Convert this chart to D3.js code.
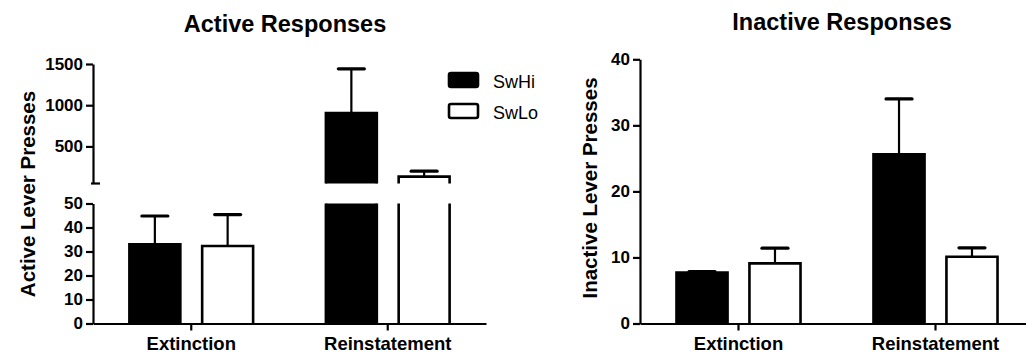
<!DOCTYPE html>
<html>
<head>
<meta charset="utf-8">
<script src="https://cdn.jsdelivr.net/npm/d3@7"></script>
<style>
  body { margin: 0; background: #fff; }
  text { font-family: "Liberation Sans", Arial, sans-serif; fill: #000; }
</style>
</head>
<body>
<div class="chart"></div>
<script>
// 数据
const categories = ["Extinction", "Reinstatement"];
const groups = ["SwHi", "SwLo"];
const activeSwHi = [33.0, 906];
const activeSwHiErr = [11.8, 535];
const activeSwLo = [32.3, 134];
const activeSwLoErr = [13.1, 66];
const inactiveSwHi = [7.7, 25.6];
const inactiveSwHiErr = [0.15, 8.4];
const inactiveSwLo = [9.1, 10.1];
const inactiveSwLoErr = [2.3, 1.35];
const activeLowTicks = [0, 10, 20, 30, 40, 50];
const activeHighTicks = [500, 1000, 1500];
const inactiveTicks = [0, 10, 20, 30, 40];

const width = 1026;
const height = 354;

const svg = d3
  .select(".chart")
  .append("svg")
  .attr("width", width)
  .attr("height", height);

function rows(hi, hiErr, lo, loErr) {
  return categories.flatMap(function (c, i) {
    return [
      { cat: c, grp: "SwHi", v: hi[i], e: hiErr[i] },
      { cat: c, grp: "SwLo", v: lo[i], e: loErr[i] }
    ];
  });
}

function styleAxis(g, size) {
  g.attr("font-family", "'Liberation Sans', Arial, sans-serif");
  g.select(".domain").attr("stroke", "#000").attr("stroke-width", 2.2);
  g.selectAll(".tick line").attr("stroke", "#000").attr("stroke-width", 2.2);
  g.selectAll(".tick text")
    .style("font-size", size + "px")
    .style("font-weight", "bold")
    .attr("fill", "#000");
}

// 画一个面板（可带断轴）
function drawPanel(opt) {
  const x0 = d3.scaleBand().domain(categories).range(opt.xRange);
  const x1 = d3.scaleBand().domain(groups)
    .range([0, x0.bandwidth()])
    .paddingInner(0.3)
    .paddingOuter(0.5);
  const y = opt.y;
  const g = svg.append("g");

  // 柱子（断轴时拆成上下两段）
  opt.data.forEach(function (d) {
    const xa = x0(d.cat) + x1(d.grp);
    const xb = xa + x1.bandwidth();
    const fill = d.grp === "SwHi" ? "#000" : "#fff";
    let segs;
    if (opt.brk && d.v > opt.brk.at) {
      segs = [
        { bot: opt.brk.low(0), top: opt.brk.low(opt.brk.at), cap: false },
        { bot: opt.brk.high(opt.brk.at), top: opt.brk.high(d.v), cap: true }
      ];
    } else {
      segs = [{ bot: y(0), top: y(d.v), cap: true }];
    }
    segs.forEach(function (s) {
      g.append("rect")
        .attr("x", xa).attr("y", s.top)
        .attr("width", xb - xa).attr("height", s.bot - s.top)
        .attr("fill", fill);
      const p = s.cap
        ? "M" + xa + "," + s.bot + "V" + s.top + "H" + xb + "V" + s.bot
        : "M" + xa + "," + s.bot + "V" + s.top + "M" + xb + "," + s.top + "V" + s.bot;
      g.append("path")
        .attr("d", p)
        .attr("fill", "none")
        .attr("stroke", "#000")
        .attr("stroke-width", 2.6);
    });

    // 误差线
    const cx = (xa + xb) / 2;
    g.append("line")
      .attr("x1", cx).attr("x2", cx)
      .attr("y1", y(d.v)).attr("y2", y(d.v + d.e))
      .attr("stroke", "#000").attr("stroke-width", 2.2);
    g.append("line")
      .attr("x1", cx - 13).attr("x2", cx + 13)
      .attr("y1", y(d.v + d.e)).attr("y2", y(d.v + d.e))
      .attr("stroke", "#000").attr("stroke-width", 3.2)
      .attr("stroke-linecap", "round");
  });

  // x 轴
  const xAxis = g.append("g")
    .attr("transform", "translate(0," + y(0) + ")")
    .call(d3.axisBottom(x0).tickSize(7).tickSizeOuter(0).tickPadding(6));
  styleAxis(xAxis, 18.5);

  // y 轴
  opt.yAxes.forEach(function (a) {
    const ya = g.append("g")
      .attr("transform", "translate(" + opt.xRange[0] + ",0)")
      .call(d3.axisLeft(a.scale)
        .tickValues(a.ticks)
        .tickFormat(d3.format("d"))
        .tickSize(7).tickSizeOuter(0).tickPadding(3));
    styleAxis(ya, 17);
  });

  if (opt.brk) {
    g.append("line")
      .attr("x1", opt.xRange[0] - 2).attr("x2", opt.xRange[0] + 7)
      .attr("y1", opt.brk.high(opt.brk.at)).attr("y2", opt.brk.high(opt.brk.at))
      .attr("stroke", "#000").attr("stroke-width", 2.2);
  }

  // 标题和 y 轴标题
  svg.append("text")
    .attr("x", opt.title[1]).attr("y", opt.title[2])
    .attr("text-anchor", "middle")
    .style("font-size", "23.5px").style("font-weight", "bold")
    .text(opt.title[0]);
  svg.append("text")
    .attr("transform", "translate(" + opt.yLabel[1] + "," + opt.yLabel[2] + ") rotate(-90)")
    .attr("text-anchor", "middle")
    .style("font-size", "20.5px").style("font-weight", "bold")
    .text(opt.yLabel[0]);
}

// 左图：断轴
const yLow = d3.scaleLinear().domain([0, 50]).range([323.5, 203.5]);
const yHigh = d3.scaleLinear().domain([50, 1500]).range([183.5, 64]);
const yActive = function (v) { return v <= 50 ? yLow(v) : yHigh(v); };

drawPanel({
  xRange: [93, 486],
  y: yActive,
  brk: { at: 50, low: yLow, high: yHigh },
  yAxes: [
    { scale: yLow, ticks: activeLowTicks },
    { scale: yHigh, ticks: activeHighTicks }
  ],
  data: rows(activeSwHi, activeSwHiErr, activeSwLo, activeSwLoErr),
  title: ["Active Responses", 285, 32],
  yLabel: ["Active Lever Presses", 35, 194]
});

// 右图
const yInactive = d3.scaleLinear().domain([0, 40]).range([323.5, 59.3]);
drawPanel({
  xRange: [640, 1034],
  y: yInactive,
  yAxes: [{ scale: yInactive, ticks: inactiveTicks }],
  data: rows(inactiveSwHi, inactiveSwHiErr, inactiveSwLo, inactiveSwLoErr),
  title: ["Inactive Responses", 842, 30],
  yLabel: ["Inactive Lever Presses", 597, 188]
});

// 图例
const legend = svg.append("g").attr("transform", "translate(448,72)");
groups.forEach(function (grp, i) {
  legend.append("rect")
    .attr("x", 1).attr("y", i * 31 + 1)
    .attr("width", 29).attr("height", 14)
    .attr("rx", 2)
    .attr("fill", grp === "SwHi" ? "#000" : "#fff")
    .attr("stroke", "#000").attr("stroke-width", 2.6);
  legend.append("text")
    .attr("x", 45).attr("y", i * 31 + 16)
    .style("font-size", "18px")
    .text(grp);
});
</script>
</body>
</html>
